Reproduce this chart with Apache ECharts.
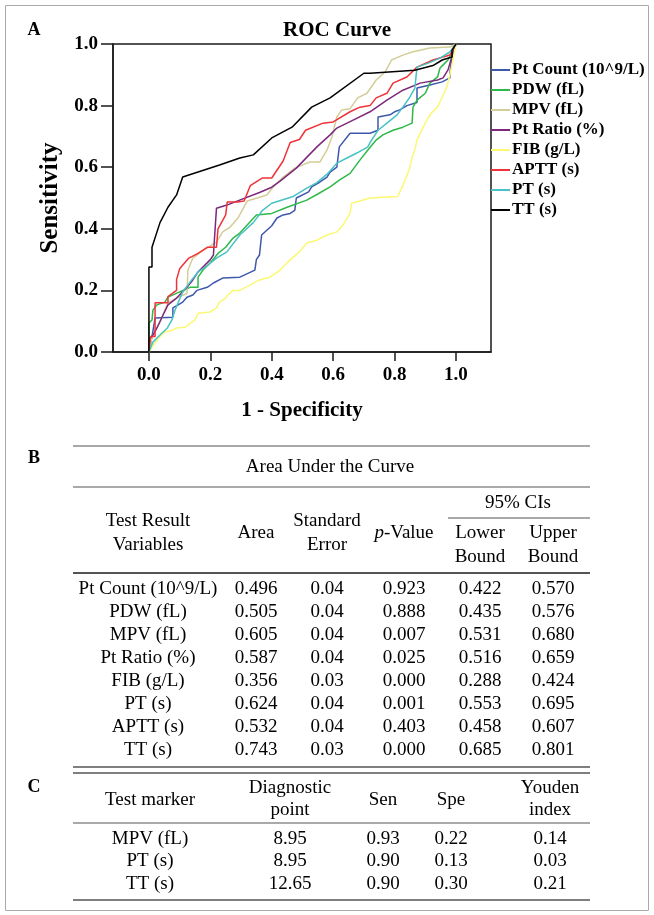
<!DOCTYPE html>
<html><head><meta charset="utf-8">
<script src="https://cdn.jsdelivr.net/npm/echarts@6/dist/echarts.min.js"></script>
<style>html,body{margin:0;padding:0;background:#fff}#c{width:654px;height:915px}</style>
</head><body><div id="c"></div>
<script>
// ---------- ROC data (1 - specificity, sensitivity) ----------
const seriesNames = ['Pt Count (10^9/L)','PDW (fL)','MPV (fL)','Pt Ratio (%)','FIB (g/L)','APTT (s)','PT (s)','TT (s)'];
const ptCount = [[0,0],[0.01,0.05],[0.02,0.11],[0.078,0.113],[0.078,0.143],[0.095,0.153],[0.11,0.162],[0.124,0.178],[0.143,0.185],[0.156,0.2],[0.19,0.21],[0.21,0.224],[0.24,0.24],[0.296,0.243],[0.345,0.266],[0.35,0.3],[0.36,0.315],[0.367,0.38],[0.40,0.41],[0.417,0.435],[0.437,0.445],[0.46,0.45],[0.475,0.46],[0.48,0.5],[0.52,0.52],[0.53,0.536],[0.557,0.552],[0.58,0.568],[0.59,0.584],[0.612,0.6],[0.62,0.666],[0.655,0.71],[0.72,0.71],[0.746,0.72],[0.746,0.763],[0.785,0.77],[0.80,0.78],[0.817,0.786],[0.84,0.80],[0.873,0.81],[0.873,0.857],[0.915,0.867],[0.955,0.877],[0.98,0.89],[0.98,0.905],[0.987,0.96],[1,1]];
const pdw = [[0,0],[0,0.094],[0.01,0.104],[0.013,0.136],[0.026,0.153],[0.052,0.162],[0.062,0.178],[0.1,0.195],[0.134,0.21],[0.16,0.21],[0.16,0.243],[0.176,0.266],[0.2,0.29],[0.225,0.32],[0.25,0.34],[0.274,0.37],[0.296,0.386],[0.32,0.412],[0.35,0.445],[0.40,0.45],[0.45,0.47],[0.514,0.493],[0.55,0.513],[0.59,0.536],[0.62,0.558],[0.655,0.58],[0.687,0.623],[0.713,0.656],[0.74,0.688],[0.762,0.705],[0.795,0.72],[0.827,0.73],[0.857,0.743],[0.86,0.795],[0.873,0.818],[0.9,0.84],[0.915,0.873],[0.94,0.893],[0.948,0.922],[0.964,0.938],[0.974,0.948],[1,1]];
const mpv = [[0,0],[0.01,0.05],[0.036,0.097],[0.062,0.16],[0.1,0.18],[0.124,0.19],[0.127,0.266],[0.143,0.305],[0.176,0.33],[0.22,0.357],[0.24,0.39],[0.264,0.405],[0.29,0.435],[0.32,0.49],[0.384,0.51],[0.40,0.53],[0.437,0.568],[0.475,0.597],[0.524,0.617],[0.557,0.617],[0.58,0.656],[0.596,0.698],[0.612,0.763],[0.628,0.786],[0.655,0.79],[0.68,0.825],[0.71,0.84],[0.74,0.883],[0.77,0.91],[0.79,0.948],[0.827,0.964],[0.857,0.974],[0.915,0.987],[0.98,0.99],[1,1]];
const ptRatio = [[0,0],[0,0.04],[0.013,0.055],[0.026,0.078],[0.046,0.12],[0.062,0.153],[0.09,0.175],[0.124,0.21],[0.143,0.234],[0.16,0.26],[0.2,0.3],[0.21,0.315],[0.22,0.467],[0.254,0.477],[0.287,0.49],[0.36,0.518],[0.40,0.535],[0.427,0.555],[0.48,0.597],[0.547,0.666],[0.59,0.705],[0.612,0.727],[0.665,0.753],[0.72,0.78],[0.775,0.818],[0.827,0.85],[0.883,0.873],[0.94,0.883],[0.958,0.89],[0.974,0.916],[0.987,0.96],[1,1]];
const fib = [[0,0],[0.02,0.03],[0.036,0.05],[0.052,0.065],[0.075,0.07],[0.09,0.078],[0.117,0.08],[0.15,0.104],[0.16,0.126],[0.2,0.13],[0.22,0.143],[0.23,0.162],[0.25,0.175],[0.257,0.185],[0.274,0.2],[0.296,0.2],[0.33,0.218],[0.36,0.234],[0.394,0.243],[0.427,0.266],[0.45,0.29],[0.47,0.308],[0.49,0.325],[0.514,0.354],[0.547,0.363],[0.58,0.38],[0.612,0.39],[0.632,0.412],[0.655,0.45],[0.66,0.483],[0.687,0.49],[0.72,0.5],[0.81,0.505],[0.827,0.54],[0.843,0.58],[0.85,0.6],[0.857,0.633],[0.866,0.656],[0.873,0.688],[0.883,0.71],[0.905,0.753],[0.92,0.776],[0.94,0.795],[0.955,0.828],[0.97,0.86],[0.98,0.9],[0.99,0.948],[1,1]];
const aptt = [[0,0],[0.005,0.05],[0.02,0.05],[0.02,0.16],[0.062,0.16],[0.062,0.18],[0.09,0.2],[0.09,0.235],[0.1,0.27],[0.13,0.305],[0.16,0.32],[0.19,0.34],[0.22,0.34],[0.225,0.40],[0.25,0.445],[0.255,0.487],[0.29,0.487],[0.31,0.49],[0.33,0.54],[0.37,0.565],[0.40,0.565],[0.437,0.62],[0.46,0.68],[0.49,0.69],[0.51,0.72],[0.567,0.743],[0.60,0.747],[0.655,0.78],[0.687,0.795],[0.72,0.80],[0.74,0.825],[0.775,0.84],[0.795,0.873],[0.84,0.893],[0.873,0.925],[0.925,0.948],[0.98,0.964],[1,1]];
const pt = [[0,0],[0.013,0.032],[0.036,0.055],[0.06,0.078],[0.075,0.104],[0.085,0.136],[0.095,0.16],[0.11,0.195],[0.134,0.227],[0.16,0.26],[0.19,0.28],[0.22,0.305],[0.254,0.325],[0.296,0.38],[0.34,0.42],[0.37,0.46],[0.40,0.483],[0.47,0.505],[0.514,0.532],[0.547,0.55],[0.583,0.58],[0.612,0.613],[0.645,0.63],[0.677,0.646],[0.713,0.666],[0.72,0.68],[0.746,0.72],[0.775,0.743],[0.808,0.77],[0.827,0.795],[0.85,0.828],[0.866,0.857],[0.873,0.925],[0.91,0.938],[0.948,0.954],[0.98,0.974],[1,1]];
const tt = [[0,0],[0,0.276],[0.01,0.276],[0.01,0.34],[0.036,0.42],[0.062,0.47],[0.09,0.51],[0.11,0.568],[0.23,0.607],[0.296,0.63],[0.34,0.64],[0.40,0.695],[0.466,0.73],[0.53,0.795],[0.59,0.825],[0.70,0.905],[0.72,0.905],[0.866,0.915],[0.925,0.93],[0.955,0.948],[0.987,0.958],[0.987,0.98],[1,1]];
const xTicks = [0, 0.2, 0.4, 0.6, 0.8, 1.0];

// ---------- Table B: Area Under the Curve ----------
const aucVars   = ['Pt Count (10^9/L)','PDW (fL)','MPV (fL)','Pt Ratio (%)','FIB (g/L)','PT (s)','APTT (s)','TT (s)'];
const aucArea   = ['0.496','0.505','0.605','0.587','0.356','0.624','0.532','0.743'];
const aucStdErr = ['0.04','0.04','0.04','0.04','0.03','0.04','0.04','0.03'];
const aucP      = ['0.923','0.888','0.007','0.025','0.000','0.001','0.403','0.000'];
const aucLower  = ['0.422','0.435','0.531','0.516','0.288','0.553','0.458','0.685'];
const aucUpper  = ['0.570','0.576','0.680','0.659','0.424','0.695','0.607','0.801'];

// ---------- Table C: diagnostic points ----------
const cMarkers = ['MPV (fL)','PT (s)','TT (s)'];
const cPoint   = ['8.95','8.95','12.65'];
const cSen     = ['0.93','0.90','0.90'];
const cSpe     = ['0.22','0.13','0.30'];
const cYouden  = ['0.14','0.03','0.21'];

const FONT = '"Liberation Serif","Times New Roman",serif';
const colors = ['#3E58AC','#2EB848','#D3CE97','#7C287D','#FBF873','#EF3338','#48C2C5','#000000'];
const curves = [ptCount, pdw, mpv, ptRatio, fib, aptt, pt, tt];
const TS = 19; // table font size

const G = [];
function txt(x, y, s, size, weight, extra) {
  G.push({type:'text', x:x, y:y, z:10, style:Object.assign({
    text:s, fill:'#000', fontFamily:FONT, fontSize:size||TS, fontWeight:weight||'normal',
    align:'center', verticalAlign:'middle'}, extra||{})});
}
function hline(x1, x2, y, w, c) {
  G.push({type:'line', z:10, shape:{x1:x1, y1:y, x2:x2, y2:y}, style:{stroke:c||'#555', lineWidth:w||1}});
}
// frame
G.push({type:'rect', shape:{x:5.5, y:5.5, width:643, height:905}, style:{fill:'none', stroke:'#aaa', lineWidth:1}});
// panel letters
txt(34, 30, 'A', 18, 'bold');
txt(34, 458, 'B', 18, 'bold');
txt(34, 787, 'C', 18, 'bold');
// title
txt(337, 31, 'ROC Curve', 21, 'bold');

// Table B
const L = 73, R = 590;
const bCols = [148, 256, 327, 404, 480, 553];
hline(L, R, 446, 1.2);
txt(330, 467, 'Area Under the Curve');
hline(L, R, 487, 1.2);
txt(518, 503, '95% CIs');
hline(448, R, 518, 1.2);
txt(bCols[0], 521, 'Test Result'); txt(bCols[0], 545, 'Variables');
txt(bCols[1], 533, 'Area');
txt(bCols[2], 521, 'Standard'); txt(bCols[2], 545, 'Error');
txt(bCols[3], 533, '{i|p}-Value', TS, 'normal', {rich:{i:{fontStyle:'italic', fontFamily:FONT, fontSize:TS}}});
txt(bCols[4], 533, 'Lower'); txt(bCols[4], 557, 'Bound');
txt(bCols[5], 533, 'Upper'); txt(bCols[5], 557, 'Bound');
hline(L, R, 573, 2);
aucVars.forEach(function(v, i) {
  const y = 589 + i * 23;
  txt(bCols[0], y, v);
  txt(bCols[1], y, aucArea[i]);
  txt(bCols[2], y, aucStdErr[i]);
  txt(bCols[3], y, aucP[i]);
  txt(bCols[4], y, aucLower[i]);
  txt(bCols[5], y, aucUpper[i]);
});
hline(L, R, 767, 1.5);

// Table C
const cCols = [150, 290, 383, 451, 550];
hline(L, R, 773, 1.5);
txt(cCols[0], 800, 'Test marker');
txt(cCols[1], 788, 'Diagnostic'); txt(cCols[1], 810, 'point');
txt(cCols[2], 800, 'Sen');
txt(cCols[3], 800, 'Spe');
txt(cCols[4], 788, 'Youden'); txt(cCols[4], 810, 'index');
hline(L, R, 823, 1.2);
cMarkers.forEach(function(m, i) {
  const y = 839 + i * 22.5;
  txt(cCols[0], y, m);
  txt(cCols[1], y, cPoint[i]);
  txt(cCols[2], y, cSen[i]);
  txt(cCols[3], y, cSpe[i]);
  txt(cCols[4], y, cYouden[i]);
});
hline(L, R, 900, 1.5);

const boldText = {fontFamily:FONT, fontWeight:'bold', color:'#000'};
const chart = echarts.init(document.getElementById('c'));
chart.setOption({
  animation:false,
  backgroundColor:'#fff',
  grid:{left:113, top:44, width:378, height:308, show:true, borderColor:'#1a1a1a', borderWidth:1.5},
  xAxis:{type:'value', min:-0.117, max:1.114,
    splitLine:{show:false},
    axisLine:{onZero:false, lineStyle:{color:'#1a1a1a', width:1.5}},
    axisTick:{customValues:xTicks, length:9, lineStyle:{color:'#1a1a1a', width:1.5}},
    axisLabel:Object.assign({customValues:xTicks, formatter:function(v){return v.toFixed(1);}, margin:14, fontSize:19}, boldText),
    name:'1 - Specificity', nameLocation:'middle', nameGap:48,
    nameTextStyle:Object.assign({fontSize:21}, boldText)},
  yAxis:{type:'value', min:0, max:1, interval:0.2,
    splitLine:{show:false},
    axisLine:{onZero:false, lineStyle:{color:'#1a1a1a', width:1.5}},
    axisTick:{length:12, lineStyle:{color:'#1a1a1a', width:1.5}},
    axisLabel:Object.assign({formatter:function(v){return v.toFixed(1);}, margin:15, fontSize:19}, boldText),
    name:'Sensitivity', nameLocation:'middle', nameGap:49,
    nameTextStyle:Object.assign({fontSize:25}, boldText)},
  legend:{orient:'vertical', left:491, top:60, padding:0, itemGap:0, itemWidth:19, itemHeight:2,
    icon:'rect', selectedMode:false, data:seriesNames,
    textStyle:Object.assign({fontSize:17, lineHeight:20, padding:[0,0,0,-3]}, boldText)},
  series: seriesNames.map(function(n, i) {
    return {type:'line', name:n, data:curves[i], symbol:'none', silent:true, z:2 + i,
      lineStyle:{width:1.5, color:colors[i]}, itemStyle:{color:colors[i]}};
  }),
  graphic:G
});
</script>
</body></html>
